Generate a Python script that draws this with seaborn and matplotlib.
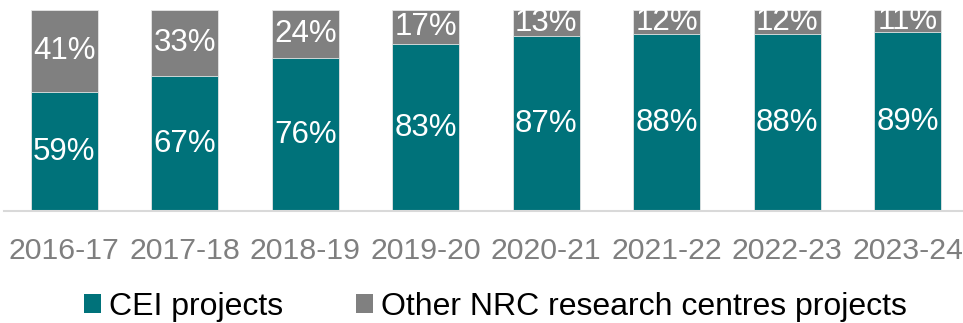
import matplotlib
matplotlib.use("Agg")
import matplotlib.pyplot as plt
import seaborn as sns
import pandas as pd
from matplotlib.patches import Patch

years = ["2016-17", "2017-18", "2018-19", "2019-20", "2020-21", "2021-22", "2022-23", "2023-24"]
cei = [59, 67, 76, 83, 87, 88, 88, 89]
other = [41, 33, 24, 17, 13, 12, 12, 11]
series_names = ["CEI projects", "Other NRC research centres projects"]

teal = "#00727A"
gray = "#808080"

sns.set_theme(style="white")
plt.rcParams["font.family"] = ["Liberation Sans", "DejaVu Sans"]

df = pd.DataFrame({"year": years, "cei": cei, "other": other})
df["total"] = df["cei"] + df["other"]

fig = plt.figure(figsize=(9.63, 3.23), dpi=100)
ax = fig.add_axes([4 / 963, 1 - 211 / 323, 959 / 963, 201 / 323])

sns.barplot(data=df, x="year", y="total", color=gray, width=0.556, ax=ax,
            saturation=1, edgecolor="#e6e6e6", linewidth=0.6)
sns.barplot(data=df, x="year", y="cei", color=teal, width=0.556, ax=ax,
            saturation=1, edgecolor="#e6e6e6", linewidth=0.6)

for i, (c, o) in enumerate(zip(cei, other)):
    ax.text(i, c / 2, f"{c}%", ha="center", va="center", color="white", fontsize=22.5)
    ax.text(i, c + o / 2, f"{o}%", ha="center", va="center", color="white", fontsize=22.5)

ax.set_ylim(0, 100)
ax.set_xlim(-0.5, 7.46)
ax.set_xlabel("")
ax.set_ylabel("")
ax.set_yticks([])
for s in ["top", "right", "left"]:
    ax.spines[s].set_visible(False)
ax.spines["bottom"].set_color("#d9d9d9")
ax.spines["bottom"].set_linewidth(1.5)
ax.tick_params(axis="x", length=0, pad=19, labelsize=21.8, labelcolor="#7f7f7f")

handles = [Patch(facecolor=teal, edgecolor="none"), Patch(facecolor=gray, edgecolor="none")]
fig.legend(handles, series_names, loc="center", bbox_to_anchor=(495.5 / 963, 1 - 307 / 323),
           ncol=2, frameon=False, fontsize=23, handlelength=0.53, handleheight=0.53,
           handletextpad=0.25, columnspacing=2.3, labelcolor="#000000")

fig.savefig("out.png", dpi=100)
